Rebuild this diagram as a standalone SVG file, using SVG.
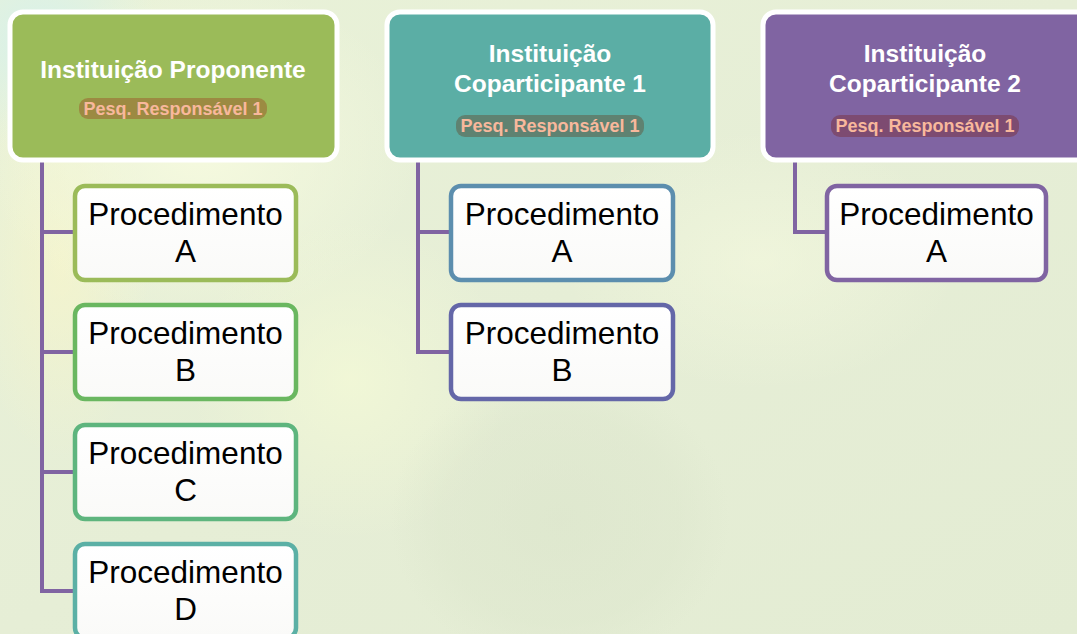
<svg xmlns="http://www.w3.org/2000/svg" width="1077" height="634" viewBox="0 0 1077 634">
<defs>
<linearGradient id="bg" x1="0" y1="0" x2="1" y2="1">
<stop offset="0" stop-color="#E9F2D8"/>
<stop offset="0.5" stop-color="#E6EED6"/>
<stop offset="1" stop-color="#E3ECD3"/>
</linearGradient>
<radialGradient id="glow1" cx="0.5" cy="0.5" r="0.5">
<stop offset="0" stop-color="#F6FADF" stop-opacity="0.95"/>
<stop offset="1" stop-color="#F6FADF" stop-opacity="0"/>
</radialGradient>
<radialGradient id="glow2" cx="0.5" cy="0.5" r="0.5">
<stop offset="0" stop-color="#F3F9D6" stop-opacity="0.8"/>
<stop offset="1" stop-color="#F3F9D6" stop-opacity="0"/>
</radialGradient>
<radialGradient id="shade" cx="0.5" cy="0.5" r="0.5">
<stop offset="0" stop-color="#D8E2C8" stop-opacity="0.5"/>
<stop offset="0.7" stop-color="#D8E2C8" stop-opacity="0.3"/>
<stop offset="1" stop-color="#D8E2C8" stop-opacity="0"/>
</radialGradient>
<radialGradient id="cyan" cx="0.5" cy="0.5" r="0.5">
<stop offset="0" stop-color="#D6F1EC" stop-opacity="0.9"/>
<stop offset="1" stop-color="#D6F1EC" stop-opacity="0"/>
</radialGradient>
<radialGradient id="yel" cx="0.5" cy="0.5" r="0.5">
<stop offset="0" stop-color="#FAF6C8" stop-opacity="0.9"/>
<stop offset="1" stop-color="#FAF6C8" stop-opacity="0"/>
</radialGradient>
<linearGradient id="boxfill" x1="0" y1="0" x2="0" y2="1">
<stop offset="0" stop-color="#FFFFFF"/>
<stop offset="1" stop-color="#FAFAF8"/>
</linearGradient>
<style>
.hdr{stroke:#FFFFFF;stroke-width:5}
.ttl{font-family:"Liberation Sans",Arial,sans-serif;font-weight:bold;font-size:24.5px;fill:#FFFFFF;text-anchor:middle}
.bdgt{font-family:"Liberation Sans",Arial,sans-serif;font-weight:bold;font-size:18px;fill:#F8B89C;text-anchor:middle}
.box{fill:url(#boxfill);stroke-width:4.5}
.lbl{font-family:"Liberation Sans",Arial,sans-serif;font-size:31.5px;fill:#000000;text-anchor:middle}
.conn{fill:none;stroke:#8064A2;stroke-width:4;stroke-linejoin:miter}
</style>
</defs>
<rect x="0" y="0" width="1077" height="634" fill="url(#bg)"/>
<ellipse cx="40" cy="40" rx="120" ry="110" fill="url(#cyan)"/>
<ellipse cx="60" cy="260" rx="90" ry="200" fill="url(#yel)" opacity="0.7"/>
<ellipse cx="200" cy="150" rx="220" ry="170" fill="url(#glow1)"/>
<ellipse cx="350" cy="380" rx="160" ry="160" fill="url(#glow2)"/>
<ellipse cx="760" cy="260" rx="200" ry="130" fill="url(#glow1)" opacity="0.6"/>
<ellipse cx="560" cy="520" rx="170" ry="150" fill="url(#shade)"/>

<g id="connectors">
<path class="conn" d="M42,160 V591 H76 M42,232 H76 M42,352 H76 M42,472 H76"/>
<path class="conn" d="M418,160 V352 H450 M418,232 H450"/>
<path class="conn" d="M795,160 V232 H827"/>
</g>

<g id="inst-proponente">
<rect class="hdr" x="10" y="12" width="327" height="148" rx="13" fill="#9BBB59"/>
<text class="ttl" x="173" y="78">Instituição Proponente</text>
<rect x="79" y="98" width="188" height="21" rx="9" fill="#9C8A42"/>
<text class="bdgt" x="173" y="115">Pesq. Responsável 1</text>
</g>

<g id="inst-coparticipante-1">
<rect class="hdr" x="387" y="12" width="326" height="148" rx="13" fill="#5BAEA5"/>
<text class="ttl" x="550" y="62">Instituição</text>
<text class="ttl" x="550" y="92">Coparticipante 1</text>
<rect x="456" y="115" width="188" height="22" rx="9" fill="#5F8271"/>
<text class="bdgt" x="550" y="132">Pesq. Responsável 1</text>
</g>

<g id="inst-coparticipante-2">
<rect class="hdr" x="763" y="12" width="326" height="148" rx="13" fill="#8064A2"/>
<text class="ttl" x="925" y="62">Instituição</text>
<text class="ttl" x="925" y="92">Coparticipante 2</text>
<rect x="831" y="115" width="188" height="22" rx="9" fill="#7D4B71"/>
<text class="bdgt" x="925" y="132">Pesq. Responsável 1</text>
</g>

<g id="p1-a">
<rect class="box" x="75" y="186" width="221" height="94" rx="10" stroke="#9BBB59"/>
<text class="lbl" x="185.5" y="225">Procedimento</text>
<text class="lbl" x="185.5" y="262">A</text>
</g>
<g id="p1-b">
<rect class="box" x="75" y="305" width="221" height="94" rx="10" stroke="#6AB760"/>
<text class="lbl" x="185.5" y="344">Procedimento</text>
<text class="lbl" x="185.5" y="381">B</text>
</g>
<g id="p1-c">
<rect class="box" x="75" y="425" width="221" height="94" rx="10" stroke="#5EB57E"/>
<text class="lbl" x="185.5" y="464">Procedimento</text>
<text class="lbl" x="185.5" y="501">C</text>
</g>
<g id="p1-d">
<rect class="box" x="75" y="544" width="221" height="94" rx="10" stroke="#5BB0A5"/>
<text class="lbl" x="185.5" y="583">Procedimento</text>
<text class="lbl" x="185.5" y="620">D</text>
</g>

<g id="p2-a">
<rect class="box" x="451" y="186" width="222" height="94" rx="10" stroke="#5C8EAE"/>
<text class="lbl" x="562" y="225">Procedimento</text>
<text class="lbl" x="562" y="262">A</text>
</g>
<g id="p2-b">
<rect class="box" x="451" y="305" width="222" height="94" rx="10" stroke="#6467A8"/>
<text class="lbl" x="562" y="344">Procedimento</text>
<text class="lbl" x="562" y="381">B</text>
</g>

<g id="p3-a">
<rect class="box" x="827" y="186" width="219" height="94" rx="10" stroke="#8064A2"/>
<text class="lbl" x="936.5" y="225">Procedimento</text>
<text class="lbl" x="936.5" y="262">A</text>
</g>
</svg>
